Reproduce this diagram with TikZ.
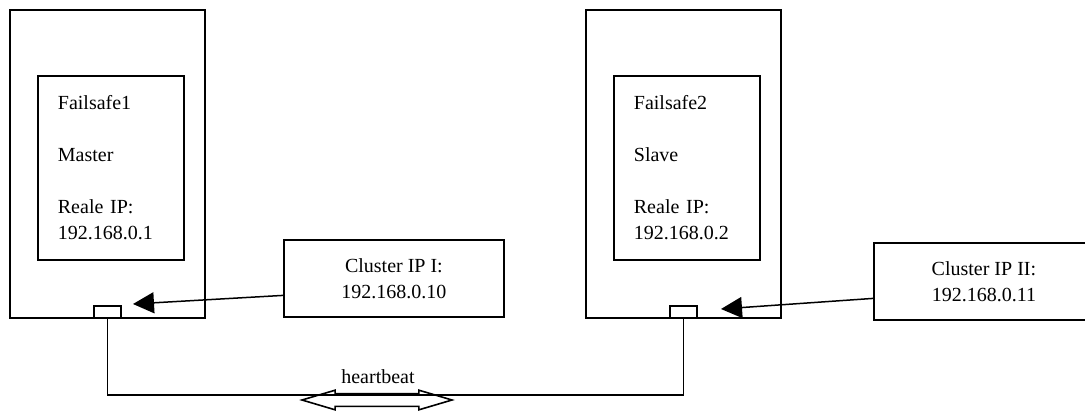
\documentclass[tikz,border=0pt]{standalone}
\usepackage{fontspec}
\setmainfont{Liberation Serif}
\usetikzlibrary{arrows.meta,calc,positioning,shapes.arrows}
\newcommand{\boxfont}{\fontsize{20}{26}\selectfont}
\tikzset{
  serverbox/.style={draw,line width=1.8pt,minimum width=195pt,minimum height=308pt,inner sep=0pt},
  hostbox/.style={draw,line width=1.8pt,minimum width=146pt,minimum height=184pt,text width=106pt,inner xsep=20pt,inner ysep=0pt,align=left,font=\boxfont},
  portbox/.style={draw,line width=1.6pt,fill=white,minimum width=27pt,minimum height=12pt,inner sep=0pt},
  clusterbox/.style={draw,line width=1.8pt,minimum width=220pt,minimum height=77pt,align=center,font=\boxfont},
  pointer/.style={-{Triangle[length=21pt,width=21pt]},line width=1.5pt},
  wire/.style={line width=1.6pt},
  beatarrow/.style={double arrow,draw,line width=1.6pt,minimum height=150pt,inner xsep=0pt,inner ysep=5.5pt,double arrow head extend=3.5pt,double arrow tip angle=33}
}
\begin{document}
\begin{tikzpicture}[x=1pt,y=-1pt]
\useasboundingbox (0,0) rectangle (1085,410);
% first server
\node[serverbox,anchor=north west] (srvI) at (9,9) {};
\node[hostbox,anchor=north west] (hostI) at (37,75) {Failsafe1\\[26pt]Master\\[26pt]Reale IP:\\192.168.0.1};
\node[portbox,anchor=south] (portI) at (srvI.south) {};
\node[clusterbox,anchor=north west] (clusterI) at (283,239) {Cluster IP I:\\192.168.0.10};
\coordinate (tipI) at (133,304);
\draw[pointer] ($(clusterI.west)+(0,17)$) -- (tipI);
% second server
\node[serverbox,anchor=north west] (srvII) at (585,9) {};
\node[hostbox,anchor=north west] (hostII) at (613,75) {Failsafe2\\[26pt]Slave\\[26pt]Reale IP:\\192.168.0.2};
\node[portbox,anchor=south] (portII) at (srvII.south) {};
\node[clusterbox,anchor=north west] (clusterII) at (873,242) {Cluster IP II:\\192.168.0.11};
\coordinate (tipII) at (721,309);
\draw[pointer] ($(clusterII.west)+(0,17)$) -- (tipII);
% heartbeat link
\draw[wire] (portI.south) -- ++(0,76) -| (portII.south);
\node[font=\boxfont,anchor=base] (hblabel) at (378,383) {heartbeat};
\node[beatarrow] (hbarrow) at (377,400) {};
\end{tikzpicture}
\end{document}
